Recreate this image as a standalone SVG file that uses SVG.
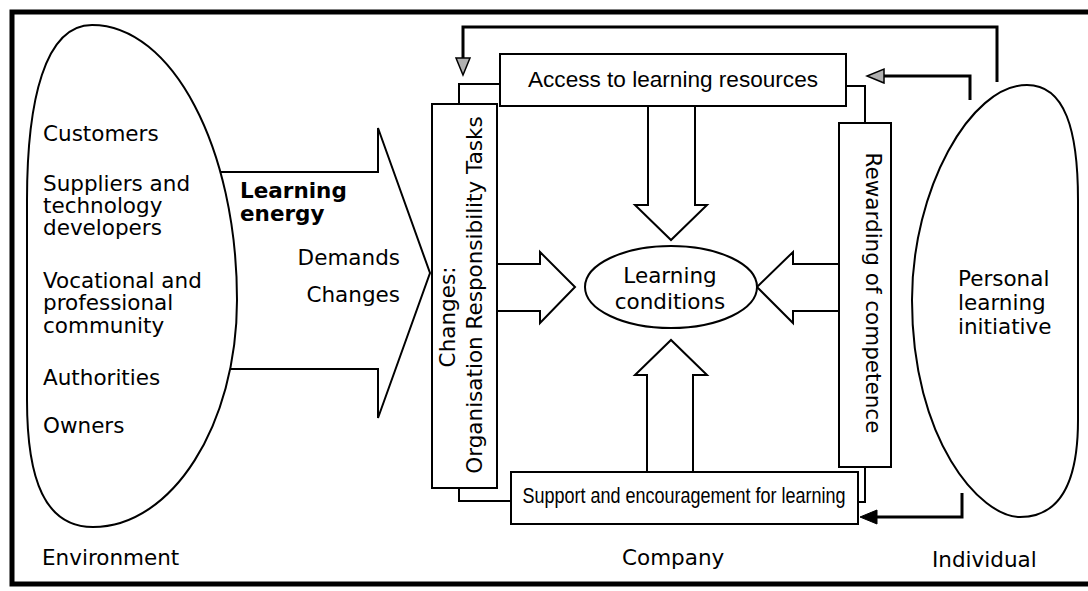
<svg xmlns="http://www.w3.org/2000/svg" width="1088" height="591" viewBox="0 0 1088 591">
<style>
.t{font-family:"DejaVu Sans","Liberation Sans",sans-serif;font-size:21.5px;fill:#000}
.b{font-family:"DejaVu Sans","Liberation Sans",sans-serif;font-size:21.5px;font-weight:bold;fill:#000}
.c{font-family:"Liberation Sans","DejaVu Sans",sans-serif;font-size:22px;fill:#000}
.shape{fill:#fff;stroke:#000;stroke-width:2}
.line{fill:none;stroke:#000;stroke-width:2}
.fb{fill:none;stroke:#000;stroke-width:3}
.frame{fill:none;stroke:#000;stroke-width:5}
</style>
<defs>
<marker id="hollow" markerUnits="userSpaceOnUse" viewBox="-1 -1 20 18" markerWidth="20" markerHeight="18" refX="0" refY="8" orient="auto">
<path d="M0,1 L17,8 L0,15 Z" fill="#b0b0b0" stroke="#000" stroke-width="1.5"/>
</marker>
<marker id="solid" markerUnits="userSpaceOnUse" viewBox="-1 -1 20 18" markerWidth="20" markerHeight="18" refX="0" refY="8" orient="auto">
<path d="M0,1 L17,8 L0,15 Z" fill="#000" stroke="#000" stroke-width="1"/>
</marker>
</defs>
<rect width="1088" height="591" fill="#fff"/>
<g id="frame">
<path class="frame" d="M1088,12 H12 V584 H1088"/>
</g>
<g id="connectors">
<path id="energy-arrow" class="shape" d="M200,172 H378 V128 L430,273 L378,418 V369 H200"/>
<polygon class="shape" points="648,100 648,205 635,205 671,240 707,205 695,205 695,100"/>
<polygon class="shape" points="490,264 540,264 540,252 575,287 540,323 540,311 490,311"/>
<polygon class="shape" points="845,264 793,264 793,252 757,287 793,323 793,311 845,311"/>
<polygon class="shape" points="647,478 647,375 635,375 671,340 707,375 693,375 693,478"/>
<path class="line" d="M500,84 H459 V104"/>
<path class="line" d="M846,86 H865 V123"/>
<path class="line" d="M511,501 H459 V488"/>
<path class="line" d="M858,502 H865 V467"/>
<path class="fb" d="M997,82 V27 H463 V58" marker-end="url(#hollow)"/>
<path class="fb" d="M970,100 V76 H884" marker-end="url(#hollow)"/>
<path class="fb" d="M962,493 V517 H877" marker-end="url(#solid)"/>
</g>
<g id="environment">
<path class="shape" d="M92,25 C172,25 237,148 237,300 C237,425 172,527 93,527 C45,527 27,480 27,400 L27,200 C27,100 45,25 92,25 Z"/>
<text class="t" x="43" y="141">Customers</text>
<text class="t" x="43" y="191">Suppliers and</text>
<text class="t" x="43" y="213">technology</text>
<text class="t" x="43" y="235">developers</text>
<text class="t" x="43" y="288">Vocational and</text>
<text class="t" x="43" y="310">professional</text>
<text class="t" x="43" y="333">community</text>
<text class="t" x="43" y="385">Authorities</text>
<text class="t" x="43" y="433">Owners</text>
</g>
<g id="learning-energy">
<text class="b" x="240" y="198">Learning</text>
<text class="b" x="240" y="221">energy</text>
<text class="t" x="400" y="265" text-anchor="end">Demands</text>
<text class="t" x="400" y="302" text-anchor="end">Changes</text>
</g>
<g id="changes">
<rect class="shape" x="432" y="104" width="65" height="384"/>
<text class="t" transform="translate(455,317) rotate(-90)" text-anchor="middle">Changes:</text>
<text class="t" transform="translate(482,295) rotate(-90)" text-anchor="middle">Organisation Responsibility Tasks</text>
</g>
<g id="access">
<rect class="shape" x="500" y="54" width="346" height="52"/>
<text class="c" x="673" y="87" text-anchor="middle" textLength="290" lengthAdjust="spacingAndGlyphs">Access to learning resources</text>
</g>
<g id="rewarding">
<rect class="shape" x="839" y="123" width="52" height="344"/>
<text class="t" transform="translate(866,293) rotate(90)" text-anchor="middle">Rewarding of competence</text>
</g>
<g id="support">
<rect class="shape" x="511" y="472" width="347" height="52"/>
<text class="c" x="684" y="503" text-anchor="middle" textLength="323" lengthAdjust="spacingAndGlyphs">Support and encouragement for learning</text>
</g>
<g id="learning-conditions">
<ellipse class="shape" cx="671" cy="287" rx="86" ry="41"/>
<text class="t" x="670" y="283" text-anchor="middle">Learning</text>
<text class="t" x="670" y="309" text-anchor="middle">conditions</text>
</g>
<g id="individual">
<path class="shape" d="M1027,85 C1065,85 1078,130 1078,200 L1078,420 C1078,490 1055,517 1020,517 C980,517 912,440 912,300 C912,190 970,85 1027,85 Z"/>
<text class="t" x="958" y="286">Personal</text>
<text class="t" x="958" y="310">learning</text>
<text class="t" x="958" y="334">initiative</text>
</g>
<g id="labels">
<text class="t" x="42" y="565">Environment</text>
<text class="t" x="622" y="565">Company</text>
<text class="t" x="932" y="567">Individual</text>
</g>
</svg>
